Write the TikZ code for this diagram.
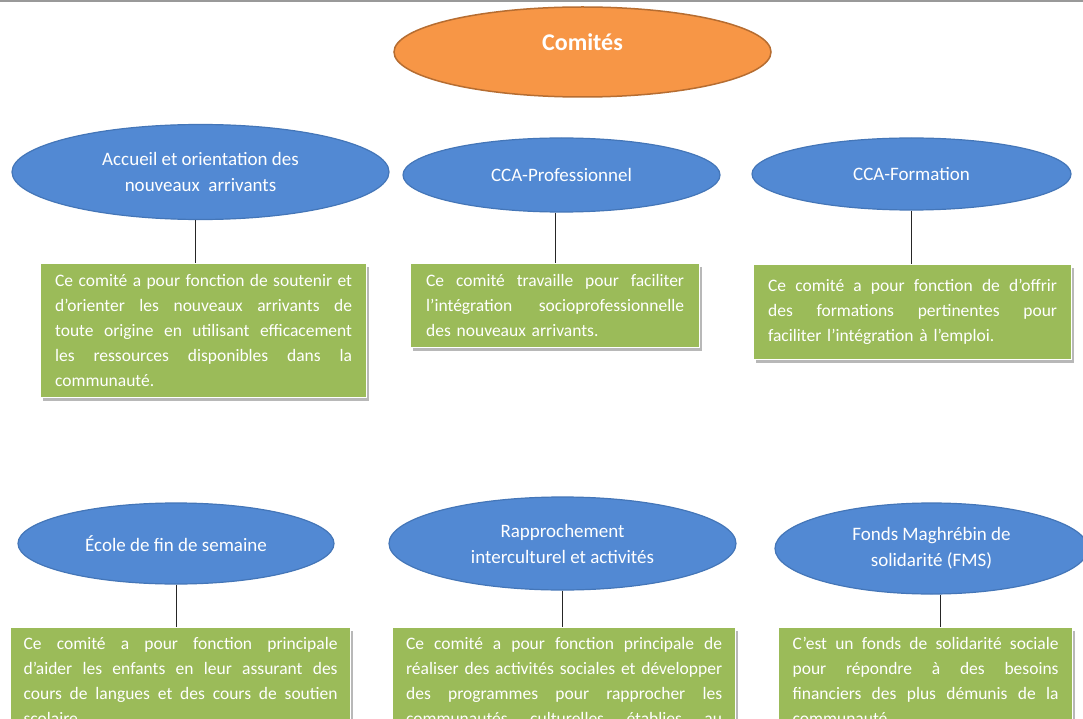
\documentclass[tikz,border=0pt]{standalone}
\usepackage{fontspec}
\setmainfont{Carlito}
\usetikzlibrary{shapes.geometric,shadows}
\definecolor{ebleu}{HTML}{5289D3}
\definecolor{ebleubord}{HTML}{4476B8}
\definecolor{eorange}{HTML}{F79646}
\definecolor{eorangebord}{HTML}{B66D31}
\definecolor{vert}{HTML}{9BBB59}
\newlength{\largligne}
\newcommand{\jligne}[1]{\makebox[\largligne][s]{\spaceskip=0pt\xspaceskip=0pt #1}}
\begin{document}
\begin{tikzpicture}[x=1pt,y=-1pt,
  ell/.style={ellipse, fill=ebleu, draw=ebleubord, line width=1.2pt, inner sep=0pt,
    text=white, align=center, font=\fontsize{19}{26}\selectfont},
  boite/.style={rectangle, fill=vert, draw=white, line width=1.2pt, anchor=north west,
    text=white, align=left, inner ysep=0pt, font=\fontsize{17.5}{25}\selectfont,
    drop shadow={shadow xshift=2pt, shadow yshift=-3pt, fill=black!28, opacity=1}},
  lien/.style={draw=black!85, line width=0.9pt}]
\useasboundingbox (0,0) rectangle (1083,719);
\clip (0,0) rectangle (1083,719);
\fill[white] (0,0) rectangle (1083,719);
\draw[black!40, line width=1.5pt] (0,1) -- (1083,1);

% top ellipse
\node[ellipse, fill=eorange, draw=eorangebord, line width=1.5pt, minimum width=377, minimum height=90] (top) at (582.5,52) {};
\node[text=white, font=\fontsize{24}{28}\selectfont\bfseries] (toptxt) at (582.5,42) {Comités};

% upper row
\node[ell, minimum width=377, minimum height=95] (e1) at (200.5,172) {Accueil et orientation des\\nouveaux\ \ arrivants};
\node[ell, minimum width=317, minimum height=74] (e2) at (561.5,175) {CCA-Professionnel};
\node[ell, minimum width=319, minimum height=72] (e3) at (911.5,174) {CCA-Formation};

\node[boite, text width=297, inner xsep=14.5, minimum height=134] (b1) at (40,263)
 {\setlength{\largligne}{297pt}%
  \jligne{Ce comité a pour fonction de soutenir et}\\
  \jligne{d’orienter les nouveaux arrivants de}\\
  \jligne{toute origine en utilisant efficacement}\\
  \jligne{les ressources disponibles dans la}\\
  communauté.};
\node[boite, text width=258, inner xsep=15.5, minimum height=84] (b2) at (410,263)
 {\setlength{\largligne}{258pt}%
  \jligne{Ce comité travaille pour faciliter}\\
  \jligne{l’intégration socioprofessionnelle}\\
  des nouveaux arrivants.};
\node[boite, text width=289, inner xsep=14.5, minimum height=95] (b3) at (753,264)
 {\setlength{\largligne}{289pt}%
  \jligne{Ce comité a pour fonction de d’offrir}\\
  \jligne{des formations pertinentes pour}\\
  faciliter l’intégration à l’emploi.};

% lower row
\node[ell, minimum width=316, minimum height=81] (e4) at (176,543.5) {École de fin de semaine};
\node[ell, minimum width=347, minimum height=93] (e5) at (562.5,543.5) {Rapprochement\\interculturel et activités};
\node[ell, minimum width=313, minimum height=91] (e6) at (931.5,548.5) {Fonds Maghrébin de\\solidarité (FMS)};

\node[boite, text width=314, inner xsep=13, minimum height=107] (b4) at (10,627)
 {\setlength{\largligne}{314pt}%
  \jligne{Ce comité a pour fonction principale}\\
  \jligne{d’aider les enfants en leur assurant des}\\
  \jligne{cours de langues et des cours de soutien}\\
  scolaire.};
\node[boite, text width=316, inner xsep=13.5, minimum height=107] (b5) at (392,627)
 {\setlength{\largligne}{316pt}%
  \jligne{Ce comité a pour fonction principale de}\\
  \jligne{réaliser des activités sociales et développer}\\
  \jligne{des programmes pour rapprocher les}\\
  \jligne{communautés culturelles établies au}};
\node[boite, text width=266, inner xsep=14, minimum height=107] (b6) at (778,627)
 {\setlength{\largligne}{266pt}%
  \jligne{C’est un fonds de solidarité sociale}\\
  \jligne{pour répondre à des besoins}\\
  \jligne{financiers des plus démunis de la}\\
  communauté.};

% connectors
\draw[lien] ([xshift=-5.5pt]e1.south) -- ([xshift=-5.5pt]e1.south |- b1.north);
\draw[lien] ([xshift=-6.5pt]e2.south) -- ([xshift=-6.5pt]e2.south |- b2.north);
\draw[lien] (e3.south) -- (e3.south |- b3.north);
\draw[lien] (e4.south) -- (e4.south |- b4.north);
\draw[lien] (e5.south) -- (e5.south |- b5.north);
\draw[lien] ([xshift=8.5pt]e6.south) -- ([xshift=8.5pt]e6.south |- b6.north);
\end{tikzpicture}
\end{document}
